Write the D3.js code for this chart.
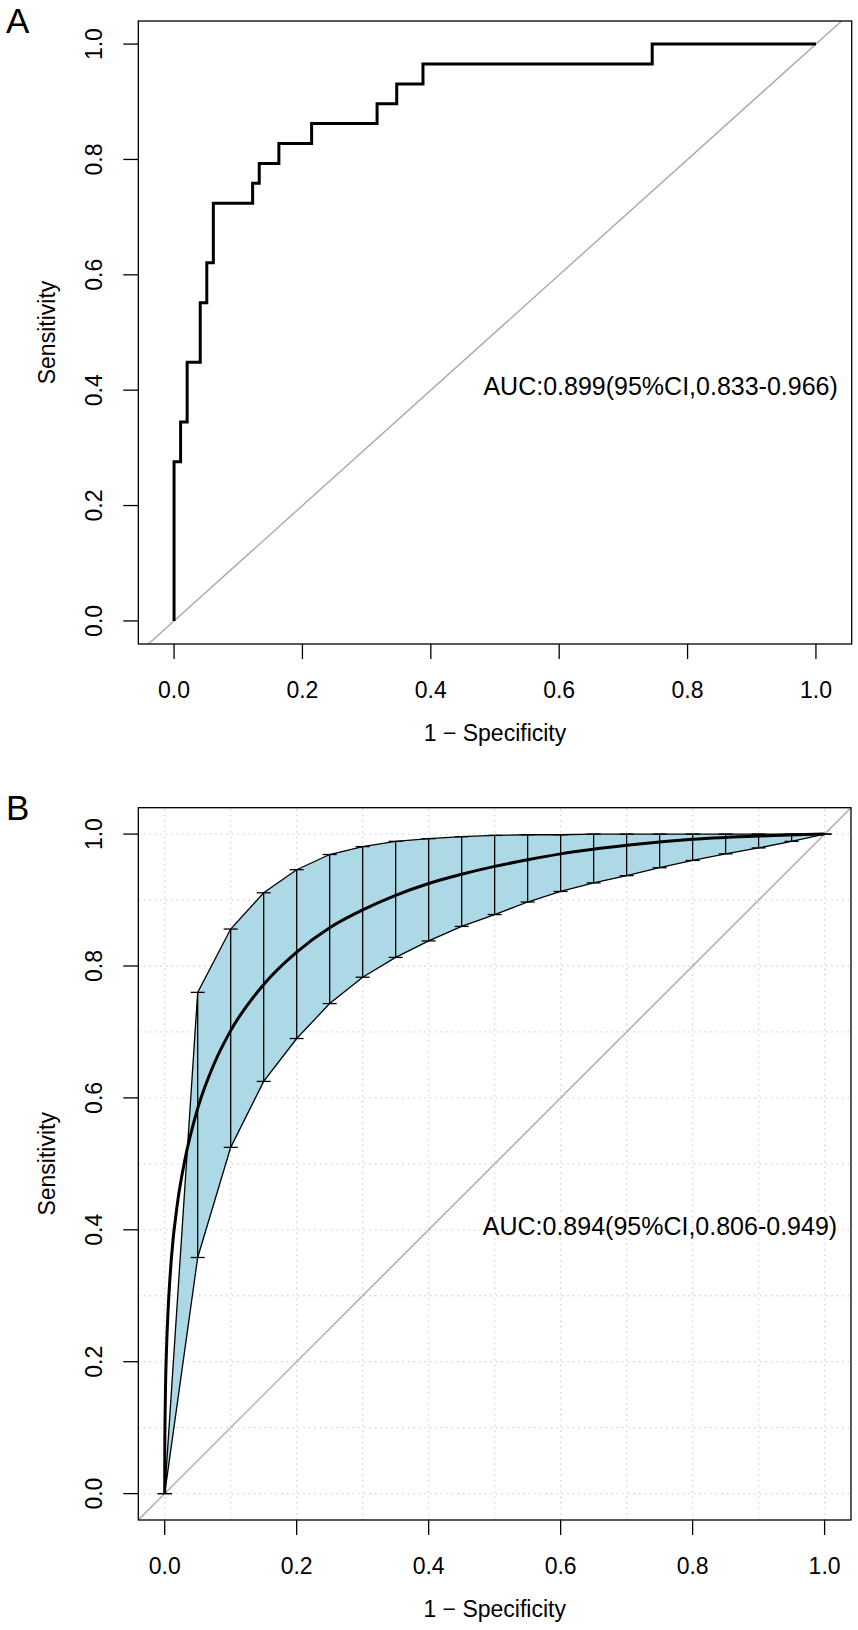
<!DOCTYPE html>
<html>
<head>
<meta charset="utf-8">
<style>
  body { margin: 0; background: #fff; }
  text { font-family: "Liberation Sans", Arial, sans-serif; fill: #000; }
  .box { fill: none; stroke: #000; stroke-width: 1.3px; }
  .tick { stroke: #000; stroke-width: 1.3px; }
  .diag { stroke: #a9a9a9; stroke-width: 1.4px; fill: none; }
  .grid { stroke: #d3d3d3; stroke-width: 1.3px; stroke-dasharray: 1.5,4; }
  .roc { fill: none; stroke: #000; stroke-width: 3px; }
  .band { fill: #add8e6; stroke: #000; stroke-width: 1.3px; }
  .bar { stroke: #000; stroke-width: 1.3px; }
</style>
</head>
<body>
<svg id="chart"></svg>
<script src="https://cdn.jsdelivr.net/npm/d3@7"></script>
<script>
// tick labels shared by both panels
var tickValues = [0, 0.2, 0.4, 0.6, 0.8, 1.0];
var gridValues = [0, 0.1, 0.2, 0.3, 0.4, 0.5, 0.6, 0.7, 0.8, 0.9, 1.0];

// panel A: empirical ROC (1 - specificity, sensitivity)
var rocFpr = [0, 0, 0.0102, 0.0204, 0.0408, 0.051, 0.0612, 0.1224, 0.1327, 0.1633, 0.2143, 0.3163, 0.3469, 0.3878, 0.7449, 1.0];
var rocTpr = [0, 0.2759, 0.3448, 0.4483, 0.5517, 0.6207, 0.7241, 0.7586, 0.7931, 0.8276, 0.8621, 0.8966, 0.931, 0.9655, 1.0, 1.0];
var aucTextA = 'AUC:0.899(95%CI,0.833-0.966)';

// panel B: smoothed ROC with sensitivity confidence band
var smoothFpr = [0, 0.0002, 0.001, 0.003, 0.005, 0.01, 0.02, 0.03, 0.05, 0.075, 0.1, 0.15, 0.2, 0.25, 0.3, 0.35, 0.4, 0.45, 0.5, 0.55, 0.6, 0.7, 0.8, 0.9, 1.0];
var smoothTpr = [0, 0.074, 0.145, 0.226, 0.275, 0.355, 0.445, 0.503, 0.584, 0.652, 0.702, 0.772, 0.821, 0.858, 0.885, 0.907, 0.925, 0.939, 0.951, 0.961, 0.970, 0.983, 0.992, 0.997, 1.0];
var ciFpr = [0, 0.05, 0.1, 0.15, 0.2, 0.25, 0.3, 0.35, 0.4, 0.45, 0.5, 0.55, 0.6, 0.65, 0.7, 0.75, 0.8, 0.85, 0.9, 0.95, 1.0];
var ciUpper = [0, 0.760, 0.856, 0.911, 0.946, 0.969, 0.981, 0.989, 0.993, 0.996, 0.998, 0.999, 0.999, 1, 1, 1, 1, 1, 1, 1, 1];
var ciLower = [0, 0.358, 0.525, 0.625, 0.690, 0.743, 0.783, 0.813, 0.838, 0.860, 0.878, 0.897, 0.913, 0.926, 0.937, 0.949, 0.960, 0.970, 0.979, 0.989, 1];
var aucTextB = 'AUC:0.894(95%CI,0.806-0.949)';

var width = 858, height = 1630;
var chart = d3.select('#chart').attr('width', width).attr('height', height);

// draws the box, ticks, tick labels and axis titles for one panel
function frame(g, x, y, letter) {
  var x0 = x.range()[0], x1 = x.range()[1];
  var y0 = y.range()[0], y1 = y.range()[1];
  g.append('rect').attr('class', 'box')
    .attr('x', x0).attr('y', y1).attr('width', x1 - x0).attr('height', y0 - y1);
  // x axis
  g.selectAll('.xt').data(tickValues).enter().append('line').attr('class', 'tick')
    .attr('x1', function(d){ return x(d); }).attr('x2', function(d){ return x(d); })
    .attr('y1', y0).attr('y2', y0 + 15);
  g.selectAll('.xl').data(tickValues).enter().append('text')
    .attr('x', function(d){ return x(d); }).attr('y', y0 + 54)
    .attr('text-anchor', 'middle').style('font-size', '23px')
    .text(function(d){ return d.toFixed(1); });
  // y axis
  g.selectAll('.yt').data(tickValues).enter().append('line').attr('class', 'tick')
    .attr('x1', x0).attr('x2', x0 - 15)
    .attr('y1', function(d){ return y(d); }).attr('y2', function(d){ return y(d); });
  g.selectAll('.yl').data(tickValues).enter().append('text')
    .attr('transform', function(d){ return 'translate(102,' + y(d) + ') rotate(-90)'; })
    .attr('text-anchor', 'middle').style('font-size', '23px')
    .text(function(d){ return d.toFixed(1); });
  g.append('text').attr('x', (x0 + x1) / 2).attr('y', y0 + 97)
    .attr('text-anchor', 'middle').style('font-size', '23px')
    .text('1 \u2212 Specificity');
  g.append('text')
    .attr('transform', 'translate(55,' + (y(0) + y(1)) / 2 + ') rotate(-90)')
    .attr('text-anchor', 'middle').style('font-size', '23px')
    .text('Sensitivity');
  g.append('text').attr('x', 6).attr('y', y1 + 12)
    .style('font-size', '35px').text(letter);
}

function diagonal(g, x, y, id) {
  var yd = y.domain();
  g.append('clipPath').attr('id', id).append('rect')
    .attr('x', x.range()[0]).attr('y', y.range()[1])
    .attr('width', x.range()[1] - x.range()[0]).attr('height', y.range()[0] - y.range()[1]);
  g.append('line').attr('class', 'diag').attr('clip-path', 'url(#' + id + ')')
    .attr('x1', x(yd[0])).attr('y1', y(yd[0]))
    .attr('x2', x(yd[1])).attr('y2', y(yd[1]));
}

// ---------------- Panel A
var xA = d3.scaleLinear().domain([-0.0557, 1.0557]).range([138.3, 851.7]);
var yA = d3.scaleLinear().domain([-0.04, 1.04]).range([644, 21]);
var gA = chart.append('g');
diagonal(gA, xA, yA, 'clipA');

var stepLine = d3.line().curve(d3.curveStepAfter)
  .x(function(d){ return xA(d[0]); })
  .y(function(d){ return yA(d[1]); });
gA.append('path').attr('class', 'roc')
  .datum(d3.zip(rocFpr, rocTpr))
  .attr('d', stepLine);

gA.append('text').attr('x', xA(0.482)).attr('y', yA(0.392))
  .style('font-size', '25px').text(aucTextA);
frame(gA, xA, yA, 'A');

// ---------------- Panel B
var xB = d3.scaleLinear().domain([-0.04, 1.04]).range([138.3, 851]);
var yB = d3.scaleLinear().domain([-0.04, 1.04]).range([1520, 807.7]);
var gB = chart.append('g');

// dotted grid
gB.selectAll('.gx').data(gridValues).enter().append('line').attr('class', 'grid')
  .attr('x1', function(d){ return xB(d); }).attr('x2', function(d){ return xB(d); })
  .attr('y1', yB.range()[0]).attr('y2', yB.range()[1]);
gB.selectAll('.gy').data(gridValues).enter().append('line').attr('class', 'grid')
  .attr('y1', function(d){ return yB(d); }).attr('y2', function(d){ return yB(d); })
  .attr('x1', xB.range()[0]).attr('x2', xB.range()[1]);

diagonal(gB, xB, yB, 'clipB');

// confidence band polygon
var upperPts = d3.zip(ciFpr, ciUpper);
var lowerPts = d3.zip(ciFpr, ciLower).reverse();
gB.append('path').attr('class', 'band')
  .attr('d', d3.line()
    .x(function(d){ return xB(d[0]); })
    .y(function(d){ return yB(d[1]); })(upperPts.concat(lowerPts)) + 'Z');

// error bars with caps
var bars = gB.selectAll('.ci').data(d3.zip(ciFpr, ciLower, ciUpper)).enter().append('g');
bars.append('line').attr('class', 'bar')
  .attr('x1', function(d){ return xB(d[0]); }).attr('x2', function(d){ return xB(d[0]); })
  .attr('y1', function(d){ return yB(d[1]); }).attr('y2', function(d){ return yB(d[2]); });
bars.append('line').attr('class', 'bar')
  .attr('x1', function(d){ return xB(d[0]) - 7; }).attr('x2', function(d){ return xB(d[0]) + 7; })
  .attr('y1', function(d){ return yB(d[1]); }).attr('y2', function(d){ return yB(d[1]); });
bars.append('line').attr('class', 'bar')
  .attr('x1', function(d){ return xB(d[0]) - 7; }).attr('x2', function(d){ return xB(d[0]) + 7; })
  .attr('y1', function(d){ return yB(d[2]); }).attr('y2', function(d){ return yB(d[2]); });

// smoothed curve
gB.append('path').attr('class', 'roc')
  .datum(d3.zip(smoothFpr, smoothTpr))
  .attr('d', d3.line().curve(d3.curveMonotoneX)
    .x(function(d){ return xB(d[0]); })
    .y(function(d){ return yB(d[1]); }));

gB.append('text').attr('x', xB(0.482)).attr('y', yB(0.392))
  .style('font-size', '25px').text(aucTextB);
frame(gB, xB, yB, 'B');
</script>
</body>
</html>
